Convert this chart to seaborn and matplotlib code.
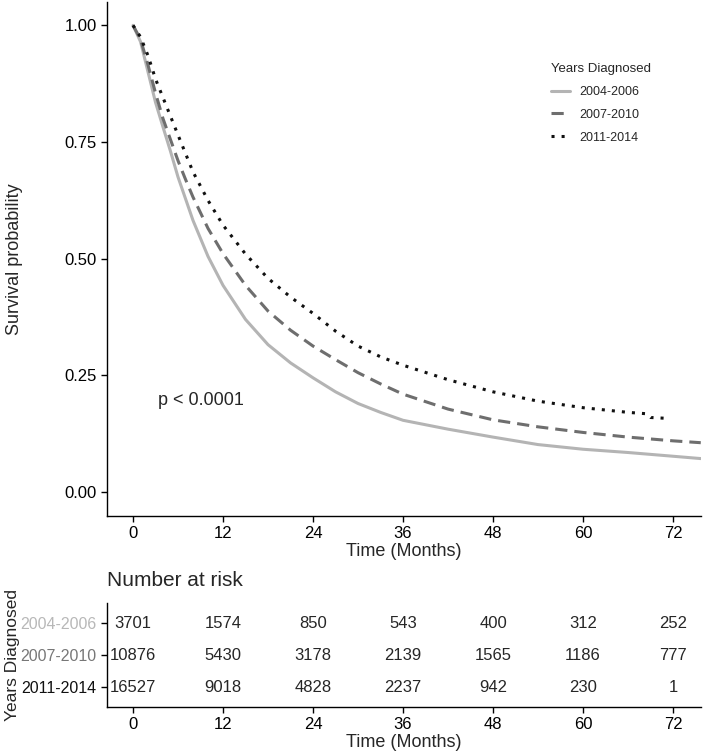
import numpy as np
import pandas as pd
import seaborn as sns
from matplotlib import pyplot as plt

# survival curves (time in months, survival probability)
groups = ['2004-2006', '2007-2010', '2011-2014']

t_0406 = [0, 1, 2, 3, 4, 5, 6, 8, 10, 12, 15, 18, 21, 24, 27, 30, 33, 36, 42, 48, 54, 60, 66, 72, 75.7]
s_0406 = [1.0, 0.965, 0.90, 0.835, 0.782, 0.73, 0.675, 0.582, 0.505, 0.443, 0.37, 0.316, 0.277,
          0.245, 0.215, 0.19, 0.171, 0.154, 0.135, 0.118, 0.102, 0.092, 0.085, 0.077, 0.072]

t_0710 = [0, 1, 2, 3, 4, 5, 6, 7, 8, 10, 12, 15, 18, 21, 24, 27, 30, 33, 36, 42, 48, 54, 60, 66, 72, 75.7]
s_0710 = [1.0, 0.97, 0.915, 0.855, 0.80, 0.755, 0.71, 0.67, 0.632, 0.565, 0.511, 0.443, 0.388,
          0.347, 0.313, 0.284, 0.256, 0.232, 0.21, 0.178, 0.155, 0.140, 0.128, 0.118, 0.110, 0.106]

t_1114 = [0, 1, 2, 3, 4, 5, 6, 8, 10, 12, 15, 18, 21, 24, 27, 30, 33, 36, 42, 48, 54, 60, 66, 68.5, 69, 71.4]
s_1114 = [1.0, 0.975, 0.935, 0.885, 0.845, 0.805, 0.765, 0.686, 0.625, 0.572, 0.51, 0.458, 0.418,
          0.383, 0.345, 0.313, 0.29, 0.272, 0.241, 0.215, 0.195, 0.181, 0.171, 0.168, 0.160, 0.158]

# number at risk table
risk_times = [0, 12, 24, 36, 48, 60, 72]
risk_0406 = [3701, 1574, 850, 543, 400, 312, 252]
risk_0710 = [10876, 5430, 3178, 2139, 1565, 1186, 777]
risk_1114 = [16527, 9018, 4828, 2237, 942, 230, 1]

line_colors = {'2004-2006': '#b4b4b4', '2007-2010': '#6e6e6e', '2011-2014': '#111111'}
label_colors = ['#b8b8b8', '#777777', '#111111']
dash_styles = {'2004-2006': '', '2007-2010': (4, 2.3), '2011-2014': (1, 2.3)}

df = pd.concat([
    pd.DataFrame({'time': t_0406, 'surv': s_0406, 'grp': groups[0]}),
    pd.DataFrame({'time': t_0710, 'surv': s_0710, 'grp': groups[1]}),
    pd.DataFrame({'time': t_1114, 'surv': s_1114, 'grp': groups[2]}),
], ignore_index=True)

sns.set_theme(style='ticks')
plt.rcParams['font.family'] = ['Liberation Sans', 'DejaVu Sans']
plt.rcParams['axes.linewidth'] = 1.0

W, H = 704, 753
fig = plt.figure(figsize=(W / 100, H / 100), dpi=100)

def frac(x0, y0, x1, y1):
    # pixel box -> figure fraction [left, bottom, width, height]
    return [x0 / W, 1 - y1 / H, (x1 - x0) / W, (y1 - y0) / H]

xlim = (-3.47, 75.73)
xticks = [0, 12, 24, 36, 48, 60, 72]

#### survival plot
ax = fig.add_axes(frac(107, 2, 701, 516))
sns.lineplot(data=df, x='time', y='surv', hue='grp', style='grp',
             hue_order=groups, style_order=groups, palette=line_colors,
             dashes=dash_styles, linewidth=2.2, estimator=None, sort=False, ax=ax)
ax.set_xlim(*xlim)
ax.set_ylim(-0.051, 1.05)
ax.set_xticks(xticks)
ax.set_yticks([0, 0.25, 0.5, 0.75, 1.0])
ax.set_yticklabels(['0.00', '0.25', '0.50', '0.75', '1.00'])
ax.set_xlabel('Time (Months)', fontsize=13, labelpad=1)
ax.set_ylabel('Survival probability', fontsize=13, labelpad=30)
ax.tick_params(labelsize=12, length=4, width=1, color='black', labelcolor='black')
sns.despine(ax=ax)
for s in ['left', 'bottom']:
    ax.spines[s].set_color('black')

ax.text(3.3, 0.197, 'p < 0.0001', fontsize=13, va='center', ha='left')

handles, labels = ax.get_legend_handles_labels()
leg = ax.legend(handles, labels, title='Years Diagnosed', loc='upper left',
                bbox_to_anchor=(551 / W, 1 - 63 / H), bbox_transform=fig.transFigure,
                frameon=False, fontsize=9, title_fontsize=9.5, handlelength=1.5,
                borderpad=0, borderaxespad=0, labelspacing=0.87, alignment='left')

#### risk table
axr = fig.add_axes(frac(107, 603, 701, 707))
axr.set_xlim(*xlim)
axr.set_ylim(0.375, 3.625)
rows = [risk_0406, risk_0710, risk_1114]
ypos = [3, 2, 1]
for vals, yy in zip(rows, ypos):
    for t, v in zip(risk_times, vals):
        axr.text(t, yy, str(v), ha='center', va='center', fontsize=12)
axr.set_xticks(xticks)
axr.set_yticks(ypos)
axr.set_yticklabels(groups)
for lab, c in zip(axr.get_yticklabels(), label_colors):
    lab.set_color(c)
axr.tick_params(labelsize=12, length=4, width=1, color='black')
axr.tick_params(axis='y', labelsize=11.5)
axr.tick_params(axis='x', labelcolor='black')
axr.set_xlabel('Time (Months)', fontsize=13, labelpad=1)
axr.set_ylabel('Years Diagnosed', fontsize=12.5, labelpad=0)
sns.despine(ax=axr)
for s in ['left', 'bottom']:
    axr.spines[s].set_color('black')

fig.text(107 / W, 1 - 586 / H, 'Number at risk', fontsize=15, va='baseline', ha='left')

fig.savefig('out.png', dpi=100)
